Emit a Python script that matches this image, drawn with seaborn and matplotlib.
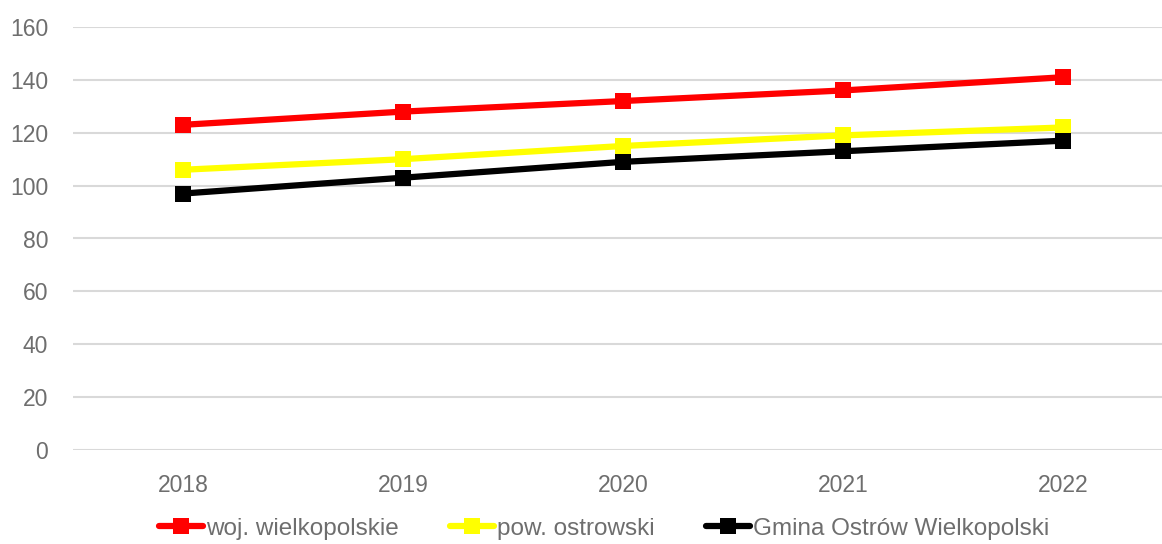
import matplotlib
matplotlib.use("Agg")
import matplotlib.pyplot as plt
import seaborn as sns
import pandas as pd

years = ["2018", "2019", "2020", "2021", "2022"]
woj = [123, 128, 132, 136, 141]
pow_ = [106, 110, 115, 119, 122]
gmina = [97, 103, 109, 113, 117]
series_names = ["woj. wielkopolskie", "pow. ostrowski", "Gmina Ostrów Wielkopolski"]
colors = ["#FF0000", "#FFFF00", "#000000"]

df = pd.DataFrame({
    "year": years * 3,
    "value": woj + pow_ + gmina,
    "series": [series_names[0]] * 5 + [series_names[1]] * 5 + [series_names[2]] * 5,
})

sns.set_theme(style="white")
plt.rcParams['font.family'] = ['Liberation Sans Narrow', 'Liberation Sans', 'DejaVu Sans']

fig = plt.figure(figsize=(11.62, 5.44), dpi=100)
ax = fig.add_axes([73/1162, 94/544, 1 - 73/1162, (450-27)/544])

sns.lineplot(data=df, x="year", y="value", hue="series", palette=colors,
             marker="s", markersize=11, markeredgewidth=0, linewidth=4.5,
             sort=False, ax=ax)

ax.set_ylim(0, 160)
ax.set_yticks(range(0, 161, 20))
ax.set_xlim(-0.5, 4.45)
ax.grid(axis="y", color="#D9D9D9", linewidth=1.5)
ax.set_axisbelow(True)
for s in ax.spines.values():
    s.set_visible(False)
ax.set_xlabel("")
ax.set_ylabel("")
ax.tick_params(axis="both", colors="#6E6E6E", labelsize=16.5, length=0)
ax.tick_params(axis="y", pad=18)
ax.tick_params(axis="x", pad=17)

handles, labels = ax.get_legend_handles_labels()
ax.legend(handles, labels, loc="center", bbox_to_anchor=(0.52, 0.028),
          bbox_transform=fig.transFigure, ncol=3, frameon=False,
          fontsize=17.5, labelcolor="#6E6E6E", handlelength=1.8,
          handletextpad=0.15, columnspacing=2.1, borderpad=0.1)

fig.savefig("out.png", dpi=100)
